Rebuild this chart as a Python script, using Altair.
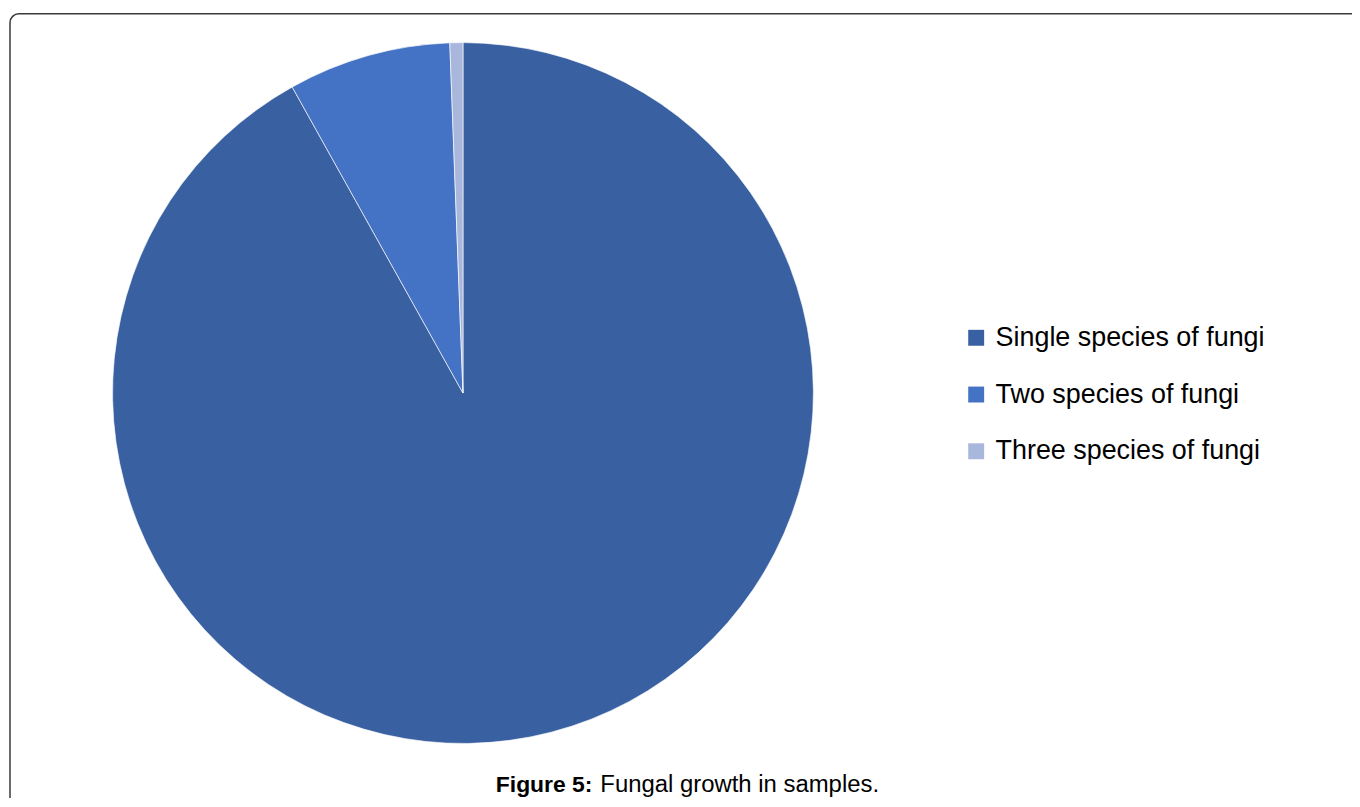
import altair as alt
import pandas as pd

categories = ["Single species of fungi", "Two species of fungi", "Three species of fungi"]
values = [91.9, 7.5, 0.6]
colors = ["#3960A1", "#4472C4", "#A9B7DC"]
caption_bold = "Figure 5:"
caption_rest = "Fungal growth in samples."

df = pd.DataFrame({"category": categories, "value": values, "idx": list(range(len(categories)))})

W, H = 1350, 790
FONT = "Liberation Sans"

frame = alt.Chart(pd.DataFrame({"a": [0]})).mark_rect(
    fill=None, stroke="#3a3a3a", strokeWidth=1.5, cornerRadius=9
).encode(
    x=alt.value(2), x2=alt.value(1420), y=alt.value(4), y2=alt.value(900)
)

pie = alt.Chart(df).mark_arc(radius=352, stroke="white", strokeWidth=0.8, strokeOpacity=0.8).encode(
    theta=alt.Theta("value:Q", stack=True),
    color=alt.Color(
        "category:N",
        scale=alt.Scale(domain=categories, range=colors),
        legend=alt.Legend(
            title=None, orient="none", legendX=959, legendY=316,
            symbolType="square", symbolSize=256, symbolStrokeWidth=0,
            labelFontSize=27, labelFont=FONT, labelColor="#000000",
            rowPadding=29, labelOffset=6, padding=0, labelLimit=500,
        ),
    ),
    order=alt.Order("idx:Q"),
    x=alt.value(457),
    y=alt.value(385),
)

cap1 = alt.Chart(pd.DataFrame({"t": [caption_bold]})).mark_text(
    align="left", baseline="alphabetic", font=FONT, fontSize=23, fontWeight="bold", color="#000000"
).encode(text="t:N", x=alt.value(490), y=alt.value(786))

cap2 = alt.Chart(pd.DataFrame({"t": [caption_rest]})).mark_text(
    align="left", baseline="alphabetic", font=FONT, fontSize=24, color="#000000"
).encode(text="t:N", x=alt.value(595), y=alt.value(786))

chart = alt.layer(frame, pie, cap1, cap2).properties(
    width=W, height=H, autosize=alt.AutoSizeParams(type="none"), padding=0, background="white"
).configure_view(stroke=None)

chart.save("out.html", embed_options={"renderer": "svg", "actions": False})
